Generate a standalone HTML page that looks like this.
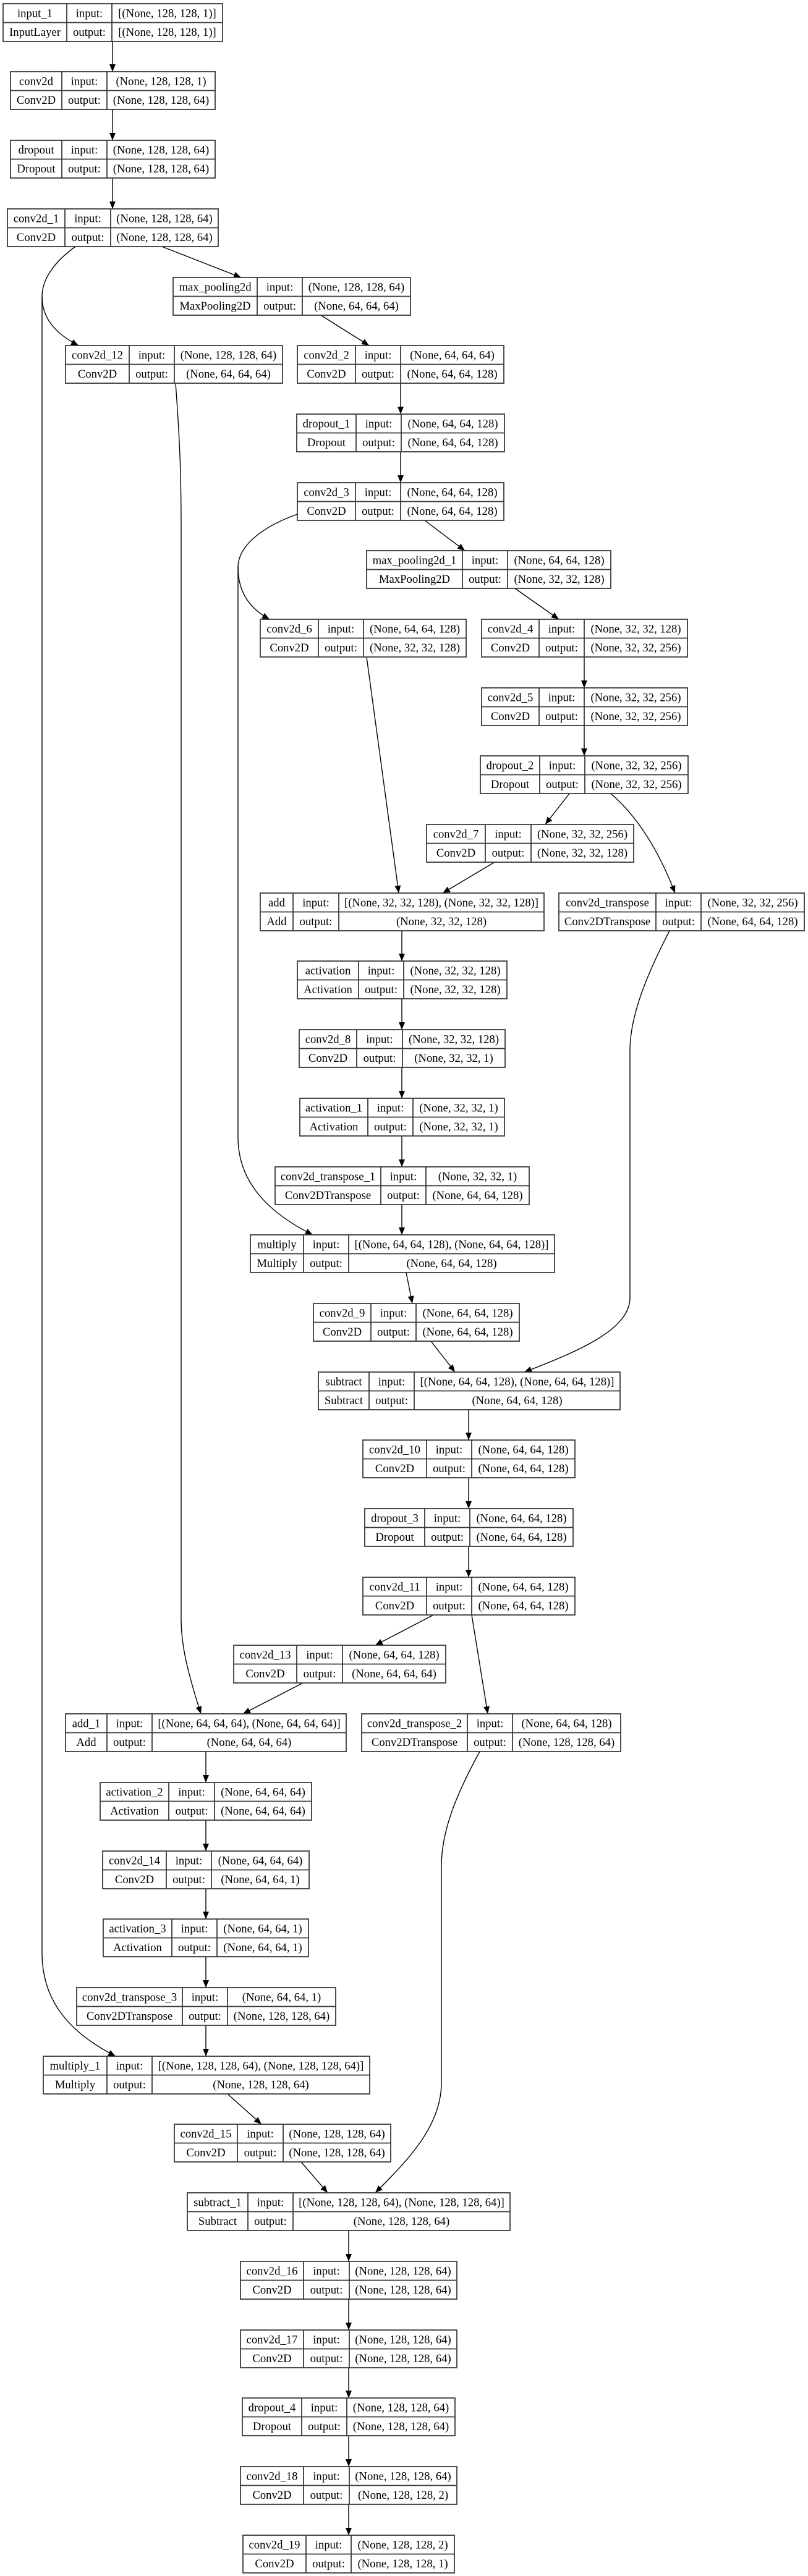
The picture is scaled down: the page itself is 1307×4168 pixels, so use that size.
<!DOCTYPE html>
<html><head><meta charset="utf-8">
<style>
html,body{margin:0;padding:0;background:#fff;}
svg{display:block;}
text{font-family:"Liberation Serif","Times New Roman",serif;font-size:18.67px;fill:#000;text-anchor:middle;}
.b rect{fill:#fff;stroke:#3a3a3a;stroke-width:1.8;}
.b line{stroke:#3a3a3a;stroke-width:1.8;}
.e{fill:none;stroke:#000;stroke-width:1.4;}
</style></head><body>
<svg width="1307" height="4168" viewBox="0 0 1307 4168" xmlns="http://www.w3.org/2000/svg">
<defs><marker id="a" viewBox="0 0 12 10" refX="12" refY="5" markerWidth="12" markerHeight="10" markerUnits="userSpaceOnUse" orient="auto"><path d="M0,0 L12,5 L0,10 z" fill="#000"/></marker></defs>

<!-- edges -->
<g class="e">
<path d="M182,67 L182,116" marker-end="url(#a)"/>
<path d="M182,177 L182,227" marker-end="url(#a)"/>
<path d="M182,288 L182,338" marker-end="url(#a)"/>
<path d="M262,399 L390,449" marker-end="url(#a)"/>
<path d="M122,399 C90,422 68,450 68,480"/>
<path d="M68,480 C68,515 90,540 127,559" marker-end="url(#a)"/>
<path d="M68,480 L68,3160 C68,3240 115,3290 187,3327" marker-end="url(#a)"/>
<path d="M519,510 L597,559" marker-end="url(#a)"/>
<path d="M284,620 C290,700 293,760 293,850 L293,2620 C293,2665 305,2710 325,2773" marker-end="url(#a)"/>
<path d="M648,620 L648,670" marker-end="url(#a)"/>
<path d="M648,731 L648,781" marker-end="url(#a)"/>
<path d="M687,842 L752,891" marker-end="url(#a)"/>
<path d="M481,832 C430,850 386,880 385,917"/>
<path d="M385,917 C385,960 405,985 436,1002" marker-end="url(#a)"/>
<path d="M385,917 L385,1840 C385,1910 430,1960 506,1998" marker-end="url(#a)"/>
<path d="M833,952 L904,1002" marker-end="url(#a)"/>
<path d="M945,1063 L945,1113" marker-end="url(#a)"/>
<path d="M945,1174 L945,1223" marker-end="url(#a)"/>
<path d="M921,1284 L882,1334" marker-end="url(#a)"/>
<path d="M988,1284 C1030,1320 1065,1375 1092,1445" marker-end="url(#a)"/>
<path d="M800,1395 L716,1445" marker-end="url(#a)"/>
<path d="M593,1063 L645,1445" marker-end="url(#a)"/>
<path d="M650,1506 L650,1555" marker-end="url(#a)"/>
<path d="M650,1616 L650,1666" marker-end="url(#a)"/>
<path d="M650,1727 L650,1777" marker-end="url(#a)"/>
<path d="M650,1838 L650,1888" marker-end="url(#a)"/>
<path d="M650,1949 L650,1998" marker-end="url(#a)"/>
<path d="M1083,1506 C1050,1570 1019,1640 1019,1700 L1019,2100 C1019,2150 940,2185 848,2220" marker-end="url(#a)"/>
<path d="M657,2059 L667,2109" marker-end="url(#a)"/>
<path d="M697,2170 L736,2220" marker-end="url(#a)"/>
<path d="M758,2281 L758,2330" marker-end="url(#a)"/>
<path d="M758,2391 L758,2441" marker-end="url(#a)"/>
<path d="M758,2502 L758,2552" marker-end="url(#a)"/>
<path d="M701,2613 L607,2662" marker-end="url(#a)"/>
<path d="M763,2613 L789,2773" marker-end="url(#a)"/>
<path d="M490,2723 L393,2773" marker-end="url(#a)"/>
<path d="M333,2834 L333,2884" marker-end="url(#a)"/>
<path d="M333,2945 L333,2995" marker-end="url(#a)"/>
<path d="M333,3056 L333,3105" marker-end="url(#a)"/>
<path d="M333,3166 L333,3216" marker-end="url(#a)"/>
<path d="M333,3277 L333,3327" marker-end="url(#a)"/>
<path d="M368,3388 L423,3437" marker-end="url(#a)"/>
<path d="M487,3498 L530,3548" marker-end="url(#a)"/>
<path d="M776,2834 C740,2900 714,2960 714,3020 L714,3370 C714,3440 660,3495 607,3548" marker-end="url(#a)"/>
<path d="M564,3609 L564,3659" marker-end="url(#a)"/>
<path d="M564,3720 L564,3770" marker-end="url(#a)"/>
<path d="M564,3831 L564,3880" marker-end="url(#a)"/>
<path d="M564,3941 L564,3991" marker-end="url(#a)"/>
<path d="M564,4052 L564,4102" marker-end="url(#a)"/>
</g>

<!-- nodes -->
<g class="b" transform="translate(0,6)"><rect x="5" y="0" width="355" height="61"/><line x1="5" y1="30.5" x2="360" y2="30.5"/><line x1="108" y1="0" x2="108" y2="61"/><line x1="181" y1="0" x2="181" y2="61"/>
<text x="56.5" y="21.5">input_1</text><text x="144.5" y="21.5">input:</text><text x="270.5" y="21.5">[(None, 128, 128, 1)]</text>
<text x="56.5" y="52">InputLayer</text><text x="144.5" y="52">output:</text><text x="270.5" y="52">[(None, 128, 128, 1)]</text></g>

<g class="b" transform="translate(0,116)"><rect x="17" y="0" width="331" height="61"/><line x1="17" y1="30.5" x2="348" y2="30.5"/><line x1="100" y1="0" x2="100" y2="61"/><line x1="173" y1="0" x2="173" y2="61"/>
<text x="58.5" y="21.5">conv2d</text><text x="136.5" y="21.5">input:</text><text x="260.5" y="21.5">(None, 128, 128, 1)</text>
<text x="58.5" y="52">Conv2D</text><text x="136.5" y="52">output:</text><text x="260.5" y="52">(None, 128, 128, 64)</text></g>

<g class="b" transform="translate(0,227)"><rect x="17" y="0" width="331" height="61"/><line x1="17" y1="30.5" x2="348" y2="30.5"/><line x1="100" y1="0" x2="100" y2="61"/><line x1="173" y1="0" x2="173" y2="61"/>
<text x="58.5" y="21.5">dropout</text><text x="136.5" y="21.5">input:</text><text x="260.5" y="21.5">(None, 128, 128, 64)</text>
<text x="58.5" y="52">Dropout</text><text x="136.5" y="52">output:</text><text x="260.5" y="52">(None, 128, 128, 64)</text></g>

<g class="b" transform="translate(0,338)"><rect x="12" y="0" width="341" height="61"/><line x1="12" y1="30.5" x2="353" y2="30.5"/><line x1="105" y1="0" x2="105" y2="61"/><line x1="179" y1="0" x2="179" y2="61"/>
<text x="58.5" y="21.5">conv2d_1</text><text x="142" y="21.5">input:</text><text x="266" y="21.5">(None, 128, 128, 64)</text>
<text x="58.5" y="52">Conv2D</text><text x="142" y="52">output:</text><text x="266" y="52">(None, 128, 128, 64)</text></g>

<g class="b" transform="translate(0,449)"><rect x="280" y="0" width="384" height="61"/><line x1="280" y1="30.5" x2="664" y2="30.5"/><line x1="416" y1="0" x2="416" y2="61"/><line x1="489" y1="0" x2="489" y2="61"/>
<text x="348" y="21.5">max_pooling2d</text><text x="452.5" y="21.5">input:</text><text x="576.5" y="21.5">(None, 128, 128, 64)</text>
<text x="348" y="52">MaxPooling2D</text><text x="452.5" y="52">output:</text><text x="576.5" y="52">(None, 64, 64, 64)</text></g>

<g class="b" transform="translate(0,559)"><rect x="106" y="0" width="351" height="61"/><line x1="106" y1="30.5" x2="457" y2="30.5"/><line x1="209" y1="0" x2="209" y2="61"/><line x1="282" y1="0" x2="282" y2="61"/>
<text x="157.5" y="21.5">conv2d_12</text><text x="245.5" y="21.5">input:</text><text x="369.5" y="21.5">(None, 128, 128, 64)</text>
<text x="157.5" y="52">Conv2D</text><text x="245.5" y="52">output:</text><text x="369.5" y="52">(None, 64, 64, 64)</text></g>

<g class="b" transform="translate(0,559)"><rect x="481" y="0" width="334" height="61"/><line x1="481" y1="30.5" x2="815" y2="30.5"/><line x1="575" y1="0" x2="575" y2="61"/><line x1="648" y1="0" x2="648" y2="61"/>
<text x="528" y="21.5">conv2d_2</text><text x="611.5" y="21.5">input:</text><text x="731.5" y="21.5">(None, 64, 64, 64)</text>
<text x="528" y="52">Conv2D</text><text x="611.5" y="52">output:</text><text x="731.5" y="52">(None, 64, 64, 128)</text></g>

<g class="b" transform="translate(0,670)"><rect x="480" y="0" width="336" height="61"/><line x1="480" y1="30.5" x2="816" y2="30.5"/><line x1="576" y1="0" x2="576" y2="61"/><line x1="649" y1="0" x2="649" y2="61"/>
<text x="528" y="21.5">dropout_1</text><text x="612.5" y="21.5">input:</text><text x="732.5" y="21.5">(None, 64, 64, 128)</text>
<text x="528" y="52">Dropout</text><text x="612.5" y="52">output:</text><text x="732.5" y="52">(None, 64, 64, 128)</text></g>

<g class="b" transform="translate(0,781)"><rect x="481" y="0" width="334" height="61"/><line x1="481" y1="30.5" x2="815" y2="30.5"/><line x1="575" y1="0" x2="575" y2="61"/><line x1="648" y1="0" x2="648" y2="61"/>
<text x="528" y="21.5">conv2d_3</text><text x="611.5" y="21.5">input:</text><text x="731.5" y="21.5">(None, 64, 64, 128)</text>
<text x="528" y="52">Conv2D</text><text x="611.5" y="52">output:</text><text x="731.5" y="52">(None, 64, 64, 128)</text></g>

<g class="b" transform="translate(0,891)"><rect x="593" y="0" width="395" height="61"/><line x1="593" y1="30.5" x2="988" y2="30.5"/><line x1="748" y1="0" x2="748" y2="61"/><line x1="821" y1="0" x2="821" y2="61"/>
<text x="670.5" y="21.5">max_pooling2d_1</text><text x="784.5" y="21.5">input:</text><text x="904.5" y="21.5">(None, 64, 64, 128)</text>
<text x="670.5" y="52">MaxPooling2D</text><text x="784.5" y="52">output:</text><text x="904.5" y="52">(None, 32, 32, 128)</text></g>

<g class="b" transform="translate(0,1002)"><rect x="421" y="0" width="333" height="61"/><line x1="421" y1="30.5" x2="754" y2="30.5"/><line x1="515" y1="0" x2="515" y2="61"/><line x1="588" y1="0" x2="588" y2="61"/>
<text x="468" y="21.5">conv2d_6</text><text x="551.5" y="21.5">input:</text><text x="671" y="21.5">(None, 64, 64, 128)</text>
<text x="468" y="52">Conv2D</text><text x="551.5" y="52">output:</text><text x="671" y="52">(None, 32, 32, 128)</text></g>

<g class="b" transform="translate(0,1002)"><rect x="779" y="0" width="333" height="61"/><line x1="779" y1="30.5" x2="1112" y2="30.5"/><line x1="872" y1="0" x2="872" y2="61"/><line x1="945" y1="0" x2="945" y2="61"/>
<text x="825.5" y="21.5">conv2d_4</text><text x="908.5" y="21.5">input:</text><text x="1028.5" y="21.5">(None, 32, 32, 128)</text>
<text x="825.5" y="52">Conv2D</text><text x="908.5" y="52">output:</text><text x="1028.5" y="52">(None, 32, 32, 256)</text></g>

<g class="b" transform="translate(0,1113)"><rect x="779" y="0" width="333" height="61"/><line x1="779" y1="30.5" x2="1112" y2="30.5"/><line x1="872" y1="0" x2="872" y2="61"/><line x1="945" y1="0" x2="945" y2="61"/>
<text x="825.5" y="21.5">conv2d_5</text><text x="908.5" y="21.5">input:</text><text x="1028.5" y="21.5">(None, 32, 32, 256)</text>
<text x="825.5" y="52">Conv2D</text><text x="908.5" y="52">output:</text><text x="1028.5" y="52">(None, 32, 32, 256)</text></g>

<g class="b" transform="translate(0,1223)"><rect x="777" y="0" width="336" height="61"/><line x1="777" y1="30.5" x2="1113" y2="30.5"/><line x1="873" y1="0" x2="873" y2="61"/><line x1="946" y1="0" x2="946" y2="61"/>
<text x="825" y="21.5">dropout_2</text><text x="909.5" y="21.5">input:</text><text x="1029.5" y="21.5">(None, 32, 32, 256)</text>
<text x="825" y="52">Dropout</text><text x="909.5" y="52">output:</text><text x="1029.5" y="52">(None, 32, 32, 256)</text></g>

<g class="b" transform="translate(0,1334)"><rect x="690" y="0" width="335" height="61"/><line x1="690" y1="30.5" x2="1025" y2="30.5"/><line x1="785" y1="0" x2="785" y2="61"/><line x1="859" y1="0" x2="859" y2="61"/>
<text x="737.5" y="21.5">conv2d_7</text><text x="822" y="21.5">input:</text><text x="942" y="21.5">(None, 32, 32, 256)</text>
<text x="737.5" y="52">Conv2D</text><text x="822" y="52">output:</text><text x="942" y="52">(None, 32, 32, 128)</text></g>

<g class="b" transform="translate(0,1445)"><rect x="421" y="0" width="459" height="61"/><line x1="421" y1="30.5" x2="880" y2="30.5"/><line x1="474" y1="0" x2="474" y2="61"/><line x1="548" y1="0" x2="548" y2="61"/>
<text x="447.5" y="21.5">add</text><text x="511" y="21.5">input:</text><text x="714" y="21.5">[(None, 32, 32, 128), (None, 32, 32, 128)]</text>
<text x="447.5" y="52">Add</text><text x="511" y="52">output:</text><text x="714" y="52">(None, 32, 32, 128)</text></g>

<g class="b" transform="translate(0,1445)"><rect x="904" y="0" width="397" height="61"/><line x1="904" y1="30.5" x2="1301" y2="30.5"/><line x1="1061" y1="0" x2="1061" y2="61"/><line x1="1134" y1="0" x2="1134" y2="61"/>
<text x="982.5" y="21.5">conv2d_transpose</text><text x="1097.5" y="21.5">input:</text><text x="1217.5" y="21.5">(None, 32, 32, 256)</text>
<text x="982.5" y="52">Conv2DTranspose</text><text x="1097.5" y="52">output:</text><text x="1217.5" y="52">(None, 64, 64, 128)</text></g>

<g class="b" transform="translate(0,1555)"><rect x="481" y="0" width="339" height="61"/><line x1="481" y1="30.5" x2="820" y2="30.5"/><line x1="580" y1="0" x2="580" y2="61"/><line x1="653" y1="0" x2="653" y2="61"/>
<text x="530.5" y="21.5">activation</text><text x="616.5" y="21.5">input:</text><text x="736.5" y="21.5">(None, 32, 32, 128)</text>
<text x="530.5" y="52">Activation</text><text x="616.5" y="52">output:</text><text x="736.5" y="52">(None, 32, 32, 128)</text></g>

<g class="b" transform="translate(0,1666)"><rect x="484" y="0" width="333" height="61"/><line x1="484" y1="30.5" x2="817" y2="30.5"/><line x1="577" y1="0" x2="577" y2="61"/><line x1="651" y1="0" x2="651" y2="61"/>
<text x="530.5" y="21.5">conv2d_8</text><text x="614" y="21.5">input:</text><text x="734" y="21.5">(None, 32, 32, 128)</text>
<text x="530.5" y="52">Conv2D</text><text x="614" y="52">output:</text><text x="734" y="52">(None, 32, 32, 1)</text></g>

<g class="b" transform="translate(0,1777)"><rect x="485" y="0" width="331" height="61"/><line x1="485" y1="30.5" x2="816" y2="30.5"/><line x1="595" y1="0" x2="595" y2="61"/><line x1="668" y1="0" x2="668" y2="61"/>
<text x="540" y="21.5">activation_1</text><text x="631.5" y="21.5">input:</text><text x="742" y="21.5">(None, 32, 32, 1)</text>
<text x="540" y="52">Activation</text><text x="631.5" y="52">output:</text><text x="742" y="52">(None, 32, 32, 1)</text></g>

<g class="b" transform="translate(0,1888)"><rect x="445" y="0" width="411" height="61"/><line x1="445" y1="30.5" x2="856" y2="30.5"/><line x1="616" y1="0" x2="616" y2="61"/><line x1="689" y1="0" x2="689" y2="61"/>
<text x="530.5" y="21.5">conv2d_transpose_1</text><text x="652.5" y="21.5">input:</text><text x="772.5" y="21.5">(None, 32, 32, 1)</text>
<text x="530.5" y="52">Conv2DTranspose</text><text x="652.5" y="52">output:</text><text x="772.5" y="52">(None, 64, 64, 128)</text></g>

<g class="b" transform="translate(0,1998)"><rect x="405" y="0" width="492" height="61"/><line x1="405" y1="30.5" x2="897" y2="30.5"/><line x1="491" y1="0" x2="491" y2="61"/><line x1="564" y1="0" x2="564" y2="61"/>
<text x="448" y="21.5">multiply</text><text x="527.5" y="21.5">input:</text><text x="730.5" y="21.5">[(None, 64, 64, 128), (None, 64, 64, 128)]</text>
<text x="448" y="52">Multiply</text><text x="527.5" y="52">output:</text><text x="730.5" y="52">(None, 64, 64, 128)</text></g>

<g class="b" transform="translate(0,2109)"><rect x="507" y="0" width="333" height="61"/><line x1="507" y1="30.5" x2="840" y2="30.5"/><line x1="600" y1="0" x2="600" y2="61"/><line x1="673" y1="0" x2="673" y2="61"/>
<text x="553.5" y="21.5">conv2d_9</text><text x="636.5" y="21.5">input:</text><text x="756.5" y="21.5">(None, 64, 64, 128)</text>
<text x="553.5" y="52">Conv2D</text><text x="636.5" y="52">output:</text><text x="756.5" y="52">(None, 64, 64, 128)</text></g>

<g class="b" transform="translate(0,2220)"><rect x="515" y="0" width="488" height="61"/><line x1="515" y1="30.5" x2="1003" y2="30.5"/><line x1="597" y1="0" x2="597" y2="61"/><line x1="670" y1="0" x2="670" y2="61"/>
<text x="556" y="21.5">subtract</text><text x="633.5" y="21.5">input:</text><text x="836.5" y="21.5">[(None, 64, 64, 128), (None, 64, 64, 128)]</text>
<text x="556" y="52">Subtract</text><text x="633.5" y="52">output:</text><text x="836.5" y="52">(None, 64, 64, 128)</text></g>

<g class="b" transform="translate(0,2330)"><rect x="587" y="0" width="343" height="61"/><line x1="587" y1="30.5" x2="930" y2="30.5"/><line x1="690" y1="0" x2="690" y2="61"/><line x1="763" y1="0" x2="763" y2="61"/>
<text x="638.5" y="21.5">conv2d_10</text><text x="726.5" y="21.5">input:</text><text x="846.5" y="21.5">(None, 64, 64, 128)</text>
<text x="638.5" y="52">Conv2D</text><text x="726.5" y="52">output:</text><text x="846.5" y="52">(None, 64, 64, 128)</text></g>

<g class="b" transform="translate(0,2441)"><rect x="590" y="0" width="337" height="61"/><line x1="590" y1="30.5" x2="927" y2="30.5"/><line x1="687" y1="0" x2="687" y2="61"/><line x1="760" y1="0" x2="760" y2="61"/>
<text x="638.5" y="21.5">dropout_3</text><text x="723.5" y="21.5">input:</text><text x="843.5" y="21.5">(None, 64, 64, 128)</text>
<text x="638.5" y="52">Dropout</text><text x="723.5" y="52">output:</text><text x="843.5" y="52">(None, 64, 64, 128)</text></g>

<g class="b" transform="translate(0,2552)"><rect x="587" y="0" width="343" height="61"/><line x1="587" y1="30.5" x2="930" y2="30.5"/><line x1="690" y1="0" x2="690" y2="61"/><line x1="763" y1="0" x2="763" y2="61"/>
<text x="638.5" y="21.5">conv2d_11</text><text x="726.5" y="21.5">input:</text><text x="846.5" y="21.5">(None, 64, 64, 128)</text>
<text x="638.5" y="52">Conv2D</text><text x="726.5" y="52">output:</text><text x="846.5" y="52">(None, 64, 64, 128)</text></g>

<g class="b" transform="translate(0,2662)"><rect x="378" y="0" width="343" height="61"/><line x1="378" y1="30.5" x2="721" y2="30.5"/><line x1="480" y1="0" x2="480" y2="61"/><line x1="554" y1="0" x2="554" y2="61"/>
<text x="429" y="21.5">conv2d_13</text><text x="517" y="21.5">input:</text><text x="637.5" y="21.5">(None, 64, 64, 128)</text>
<text x="429" y="52">Conv2D</text><text x="517" y="52">output:</text><text x="637.5" y="52">(None, 64, 64, 64)</text></g>

<g class="b" transform="translate(0,2773)"><rect x="106" y="0" width="454" height="61"/><line x1="106" y1="30.5" x2="560" y2="30.5"/><line x1="173" y1="0" x2="173" y2="61"/><line x1="246" y1="0" x2="246" y2="61"/>
<text x="139.5" y="21.5">add_1</text><text x="209.5" y="21.5">input:</text><text x="403" y="21.5">[(None, 64, 64, 64), (None, 64, 64, 64)]</text>
<text x="139.5" y="52">Add</text><text x="209.5" y="52">output:</text><text x="403" y="52">(None, 64, 64, 64)</text></g>

<g class="b" transform="translate(0,2773)"><rect x="585" y="0" width="419" height="61"/><line x1="585" y1="30.5" x2="1004" y2="30.5"/><line x1="756" y1="0" x2="756" y2="61"/><line x1="829" y1="0" x2="829" y2="61"/>
<text x="670.5" y="21.5">conv2d_transpose_2</text><text x="792.5" y="21.5">input:</text><text x="916.5" y="21.5">(None, 64, 64, 128)</text>
<text x="670.5" y="52">Conv2DTranspose</text><text x="792.5" y="52">output:</text><text x="916.5" y="52">(None, 128, 128, 64)</text></g>

<g class="b" transform="translate(0,2884)"><rect x="162" y="0" width="342" height="61"/><line x1="162" y1="30.5" x2="504" y2="30.5"/><line x1="273" y1="0" x2="273" y2="61"/><line x1="347" y1="0" x2="347" y2="61"/>
<text x="217.5" y="21.5">activation_2</text><text x="310" y="21.5">input:</text><text x="425.5" y="21.5">(None, 64, 64, 64)</text>
<text x="217.5" y="52">Activation</text><text x="310" y="52">output:</text><text x="425.5" y="52">(None, 64, 64, 64)</text></g>

<g class="b" transform="translate(0,2995)"><rect x="166" y="0" width="334" height="61"/><line x1="166" y1="30.5" x2="500" y2="30.5"/><line x1="269" y1="0" x2="269" y2="61"/><line x1="342" y1="0" x2="342" y2="61"/>
<text x="217.5" y="21.5">conv2d_14</text><text x="305.5" y="21.5">input:</text><text x="421" y="21.5">(None, 64, 64, 64)</text>
<text x="217.5" y="52">Conv2D</text><text x="305.5" y="52">output:</text><text x="421" y="52">(None, 64, 64, 1)</text></g>

<g class="b" transform="translate(0,3105)"><rect x="167" y="0" width="332" height="61"/><line x1="167" y1="30.5" x2="499" y2="30.5"/><line x1="278" y1="0" x2="278" y2="61"/><line x1="351" y1="0" x2="351" y2="61"/>
<text x="222.5" y="21.5">activation_3</text><text x="314.5" y="21.5">input:</text><text x="425" y="21.5">(None, 64, 64, 1)</text>
<text x="222.5" y="52">Activation</text><text x="314.5" y="52">output:</text><text x="425" y="52">(None, 64, 64, 1)</text></g>

<g class="b" transform="translate(0,3216)"><rect x="124" y="0" width="419" height="61"/><line x1="124" y1="30.5" x2="543" y2="30.5"/><line x1="295" y1="0" x2="295" y2="61"/><line x1="368" y1="0" x2="368" y2="61"/>
<text x="209.5" y="21.5">conv2d_transpose_3</text><text x="331.5" y="21.5">input:</text><text x="455.5" y="21.5">(None, 64, 64, 1)</text>
<text x="209.5" y="52">Conv2DTranspose</text><text x="331.5" y="52">output:</text><text x="455.5" y="52">(None, 128, 128, 64)</text></g>

<g class="b" transform="translate(0,3327)"><rect x="70" y="0" width="528" height="61"/><line x1="70" y1="30.5" x2="598" y2="30.5"/><line x1="173" y1="0" x2="173" y2="61"/><line x1="246" y1="0" x2="246" y2="61"/>
<text x="121.5" y="21.5">multiply_1</text><text x="209.5" y="21.5">input:</text><text x="422" y="21.5">[(None, 128, 128, 64), (None, 128, 128, 64)]</text>
<text x="121.5" y="52">Multiply</text><text x="209.5" y="52">output:</text><text x="422" y="52">(None, 128, 128, 64)</text></g>

<g class="b" transform="translate(0,3437)"><rect x="282" y="0" width="350" height="61"/><line x1="282" y1="30.5" x2="632" y2="30.5"/><line x1="384" y1="0" x2="384" y2="61"/><line x1="458" y1="0" x2="458" y2="61"/>
<text x="333" y="21.5">conv2d_15</text><text x="421" y="21.5">input:</text><text x="545" y="21.5">(None, 128, 128, 64)</text>
<text x="333" y="52">Conv2D</text><text x="421" y="52">output:</text><text x="545" y="52">(None, 128, 128, 64)</text></g>

<g class="b" transform="translate(0,3548)"><rect x="303" y="0" width="522" height="61"/><line x1="303" y1="30.5" x2="825" y2="30.5"/><line x1="401" y1="0" x2="401" y2="61"/><line x1="474" y1="0" x2="474" y2="61"/>
<text x="352" y="21.5">subtract_1</text><text x="437.5" y="21.5">input:</text><text x="649.5" y="21.5">[(None, 128, 128, 64), (None, 128, 128, 64)]</text>
<text x="352" y="52">Subtract</text><text x="437.5" y="52">output:</text><text x="649.5" y="52">(None, 128, 128, 64)</text></g>

<g class="b" transform="translate(0,3659)"><rect x="389" y="0" width="350" height="61"/><line x1="389" y1="30.5" x2="739" y2="30.5"/><line x1="491" y1="0" x2="491" y2="61"/><line x1="565" y1="0" x2="565" y2="61"/>
<text x="440" y="21.5">conv2d_16</text><text x="528" y="21.5">input:</text><text x="652" y="21.5">(None, 128, 128, 64)</text>
<text x="440" y="52">Conv2D</text><text x="528" y="52">output:</text><text x="652" y="52">(None, 128, 128, 64)</text></g>

<g class="b" transform="translate(0,3770)"><rect x="389" y="0" width="350" height="61"/><line x1="389" y1="30.5" x2="739" y2="30.5"/><line x1="491" y1="0" x2="491" y2="61"/><line x1="565" y1="0" x2="565" y2="61"/>
<text x="440" y="21.5">conv2d_17</text><text x="528" y="21.5">input:</text><text x="652" y="21.5">(None, 128, 128, 64)</text>
<text x="440" y="52">Conv2D</text><text x="528" y="52">output:</text><text x="652" y="52">(None, 128, 128, 64)</text></g>

<g class="b" transform="translate(0,3880)"><rect x="392" y="0" width="344" height="61"/><line x1="392" y1="30.5" x2="736" y2="30.5"/><line x1="488" y1="0" x2="488" y2="61"/><line x1="561" y1="0" x2="561" y2="61"/>
<text x="440" y="21.5">dropout_4</text><text x="524.5" y="21.5">input:</text><text x="648.5" y="21.5">(None, 128, 128, 64)</text>
<text x="440" y="52">Dropout</text><text x="524.5" y="52">output:</text><text x="648.5" y="52">(None, 128, 128, 64)</text></g>

<g class="b" transform="translate(0,3991)"><rect x="389" y="0" width="350" height="61"/><line x1="389" y1="30.5" x2="739" y2="30.5"/><line x1="491" y1="0" x2="491" y2="61"/><line x1="565" y1="0" x2="565" y2="61"/>
<text x="440" y="21.5">conv2d_18</text><text x="528" y="21.5">input:</text><text x="652" y="21.5">(None, 128, 128, 64)</text>
<text x="440" y="52">Conv2D</text><text x="528" y="52">output:</text><text x="652" y="52">(None, 128, 128, 2)</text></g>

<g class="b" transform="translate(0,4102)"><rect x="393" y="0" width="342" height="61"/><line x1="393" y1="30.5" x2="735" y2="30.5"/><line x1="495" y1="0" x2="495" y2="61"/><line x1="568" y1="0" x2="568" y2="61"/>
<text x="444" y="21.5">conv2d_19</text><text x="531.5" y="21.5">input:</text><text x="651.5" y="21.5">(None, 128, 128, 2)</text>
<text x="444" y="52">Conv2D</text><text x="531.5" y="52">output:</text><text x="651.5" y="52">(None, 128, 128, 1)</text></g>
</svg>
</body></html>
